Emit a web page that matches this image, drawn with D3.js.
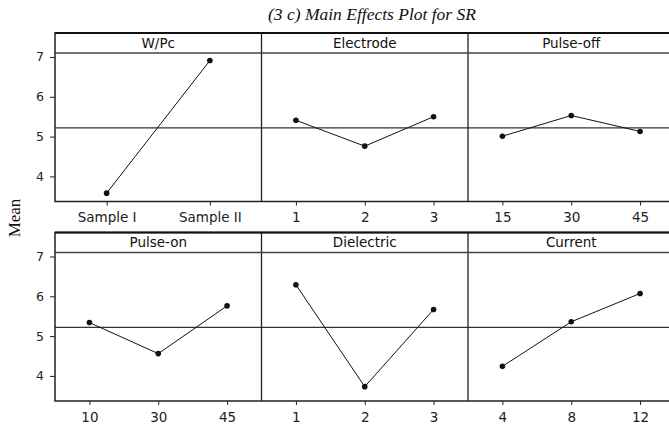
<!DOCTYPE html>
<html>
<head>
<meta charset="utf-8">
<script src="https://cdn.jsdelivr.net/npm/d3@7"></script>
<style>
  html, body { margin: 0; padding: 0; background: #fff; }
  svg { display: block; }
</style>
</head>
<body>
<div id="chart"></div>
<script>
// Data
const factors = ["W/Pc", "Electrode", "Pulse-off", "Pulse-on", "Dielectric", "Current"];
const levels = [
  ["Sample I", "Sample II"],
  ["1", "2", "3"],
  ["15", "30", "45"],
  ["10", "30", "45"],
  ["1", "2", "3"],
  ["4", "8", "12"]
];
const means = [
  [3.58, 6.91],
  [5.41, 4.76, 5.50],
  [5.01, 5.53, 5.13],
  [5.34, 4.56, 5.76],
  [6.29, 3.73, 5.67],
  [4.24, 5.36, 6.07]
];
const grandMean = 5.22;
const yTicks = [4, 5, 6, 7];
const yDomain = [3.37, 7.1];

const width = 669;
const height = 432;

const left = 55;
const panelW = 206.5;
const cols = 3;
const rowTops = [33, 232.5];
const headerH = 20;
const plotH = 148.5;

const svg = d3.select("#chart").append("svg")
  .attr("width", width)
  .attr("height", height);

// Title
svg.append("text")
  .attr("x", 372)
  .attr("y", 20)
  .attr("text-anchor", "middle")
  .attr("font-family", "Liberation Serif, Times New Roman, serif")
  .attr("font-style", "italic")
  .attr("font-size", 17.5)
  .attr("fill", "#111")
  .text("(3 c) Main Effects Plot for SR");

// Y label
svg.append("text")
  .attr("transform", "translate(20,218) rotate(-90)")
  .attr("text-anchor", "middle")
  .attr("font-family", "Liberation Serif, Times New Roman, serif")
  .attr("font-size", 17)
  .attr("fill", "#111")
  .text("Mean");

const sansFont = "DejaVu Sans, Verdana, sans-serif";

rowTops.forEach((top, r) => {
  const plotTop = top + headerH;
  const plotBottom = plotTop + plotH;
  const right = left + panelW * cols;

  const y = d3.scaleLinear().domain(yDomain).range([plotBottom, plotTop]);

  const g = svg.append("g");

  // Y axis (left side only)
  const yAxis = g.append("g")
    .attr("transform", `translate(${left},0)`)
    .call(d3.axisLeft(y).tickValues(yTicks).tickSize(5).tickPadding(6).tickFormat(d3.format("d")));
  yAxis.select(".domain").remove();
  yAxis.selectAll("line").attr("stroke", "#222");
  yAxis.selectAll("text")
    .attr("font-family", sansFont)
    .attr("font-size", 12.5)
    .attr("fill", "#222");

  // grand mean reference line across the row
  g.append("line")
    .attr("x1", left).attr("x2", right)
    .attr("y1", y(grandMean)).attr("y2", y(grandMean))
    .attr("stroke", "#333")
    .attr("stroke-width", 1.2);

  for (let c = 0; c < cols; c++) {
    const i = r * cols + c;
    const x0 = left + c * panelW;
    const x = d3.scalePoint()
      .domain(levels[i])
      .range([x0, x0 + panelW])
      .padding(0.5);

    // header label
    g.append("text")
      .attr("x", x0 + panelW / 2)
      .attr("y", top + headerH / 2)
      .attr("dy", "0.36em")
      .attr("text-anchor", "middle")
      .attr("font-family", sansFont)
      .attr("font-size", 13.5)
      .attr("fill", "#111")
      .text(factors[i]);

    // x axis
    const xAxis = g.append("g")
      .attr("transform", `translate(0,${plotBottom})`)
      .call(d3.axisBottom(x).tickSize(4).tickPadding(7));
    xAxis.select(".domain").remove();
    xAxis.selectAll("line").attr("stroke", "#222");
    xAxis.selectAll("text")
      .attr("font-family", sansFont)
      .attr("font-size", 13.5)
      .attr("fill", "#222");

    const pts = levels[i].map((l, k) => ({ level: l, value: means[i][k] }));

    g.append("path")
      .datum(pts)
      .attr("fill", "none")
      .attr("stroke", "#111")
      .attr("stroke-width", 1)
      .attr("d", d3.line().x(d => x(d.level)).y(d => y(d.value)));

    g.selectAll(null)
      .data(pts)
      .join("circle")
      .attr("cx", d => x(d.level))
      .attr("cy", d => y(d.value))
      .attr("r", 2.8)
      .attr("fill", "#111");

    // panel divider
    if (c > 0) {
      g.append("line")
        .attr("x1", x0).attr("x2", x0)
        .attr("y1", top).attr("y2", plotBottom)
        .attr("stroke", "#222")
        .attr("stroke-width", 1.3);
    }
  }

  // header bottom line
  g.append("line")
    .attr("x1", left).attr("x2", right)
    .attr("y1", plotTop).attr("y2", plotTop)
    .attr("stroke", "#444")
    .attr("stroke-width", 1.4);

  // outer frame: top, left, bottom (right edge falls outside the picture)
  g.append("path")
    .attr("fill", "none")
    .attr("stroke", "#222")
    .attr("stroke-width", 1.5)
    .attr("d", `M${right},${top}H${left}V${plotBottom}H${right}`);
  g.append("line")
    .attr("x1", left).attr("x2", right)
    .attr("y1", top).attr("y2", top)
    .attr("stroke", "#111")
    .attr("stroke-width", 2);
});
</script>
</body>
</html>
